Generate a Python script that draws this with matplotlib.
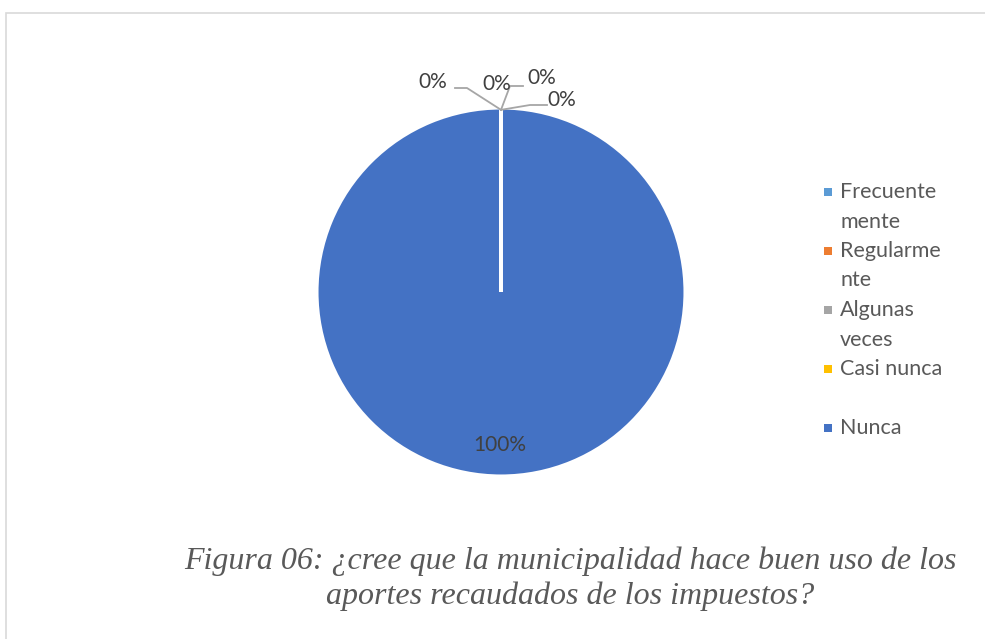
import numpy as np
import matplotlib
matplotlib.use("Agg")
import matplotlib.pyplot as plt
from matplotlib.patches import Rectangle

categories = ["Frecuentemente", "Regularmente", "Algunas veces", "Casi nunca", "Nunca"]
legend_lines = [["Frecuente", "mente"], ["Regularme", "nte"], ["Algunas", "veces"], ["Casi nunca"], ["Nunca"]]
values = [0, 0, 0, 0, 100]
colors = ["#5B9BD5", "#ED7D31", "#A5A5A5", "#FFC000", "#4472C4"]
caption = ["Figura 06: ¿cree que la municipalidad hace buen uso de los",
           "aportes recaudados de los impuestos?"]

W, H = 985, 639
fig = plt.figure(figsize=(W / 100, H / 100), dpi=100)
fig.patch.set_facecolor("white")

# outer frame
fig.patches.append(Rectangle((6 / W, -0.01), 1.02, (H - 13) / H + 0.01,
                             transform=fig.transFigure, fill=False,
                             edgecolor="#D9D9D9", lw=1.2))

cx, cy, R = 501, 292, 184
ax = fig.add_axes([(cx - R) / W, (H - cy - R) / H, 2 * R / W, 2 * R / H])
wedges, _ = ax.pie(values, colors=colors, startangle=90, counterclock=False,
                   radius=1, wedgeprops=dict(edgecolor="white", linewidth=2.2))
ax.set_xlim(-1, 1)
ax.set_ylim(-1, 1)
ax.set_aspect("equal")
ax.axis("off")

# slice boundaries (white separators)
for w in wedges:
    for th in (w.theta1, w.theta2):
        a = np.deg2rad(th)
        ax.plot([0, np.cos(a)], [0, np.sin(a)], color="white", lw=2.6,
                solid_capstyle="butt", zorder=3)

def px(x, y):
    return ((x - cx) / R, (cy - y) / R)

total = sum(values)
lab_font = dict(family=["Lato", "DejaVu Sans"], fontsize=15, color="#404040")

# label placements (pixel) and elbow points for the small slices
label_pos = [(433, 82), (497, 84), (542, 78), (562, 100), (500, 445)]
elbows = [[(455, 88), (467, 88)], [], [(523, 86), (510, 86)], [(547, 105), (530, 105)], None]

for i, (w, v) in enumerate(zip(wedges, values)):
    txt = f"{v / total:.0%}"
    tx, ty = px(*label_pos[i])
    ax.text(tx, ty, txt, ha="center", va="center", clip_on=False, zorder=5, **lab_font)
    if elbows[i]:
        ang = np.deg2rad((w.theta1 + w.theta2) / 2)
        ax_pt = (np.cos(ang) * 0.99, np.sin(ang) * 0.99)
        pts = [px(*p) for p in elbows[i]] + [ax_pt]
        xs, ys = zip(*pts)
        ax.plot(xs, ys, color="#A6A6A6", lw=1.3, clip_on=False, zorder=4)

# legend
leg_x_marker = 828
leg_x_text = 840
y0, slot, line_h = 192, 59, 29.5
leg_font = dict(family=["Lato", "DejaVu Sans"], fontsize=15.5, color="#595959")
for i, (lines, c) in enumerate(zip(legend_lines, colors)):
    y = y0 + i * slot
    fig.patches.append(Rectangle(((leg_x_marker - 4) / W, (H - y - 4) / H), 8 / W, 8 / H,
                                 transform=fig.transFigure, facecolor=c, edgecolor="none"))
    for j, ln in enumerate(lines):
        fig.text(leg_x_text / W, (H - (y + j * line_h)) / H, ln,
                 ha="left", va="center", **leg_font)

# caption
cap_font = dict(family=["Liberation Serif", "DejaVu Serif"], style="italic",
                fontsize=23, color="#595959")
fig.text(570 / W, (H - 561) / H, caption[0], ha="center", va="center", **cap_font)
fig.text(570 / W, (H - 596) / H, caption[1], ha="center", va="center", **cap_font)

fig.savefig("out.png", dpi=100)
